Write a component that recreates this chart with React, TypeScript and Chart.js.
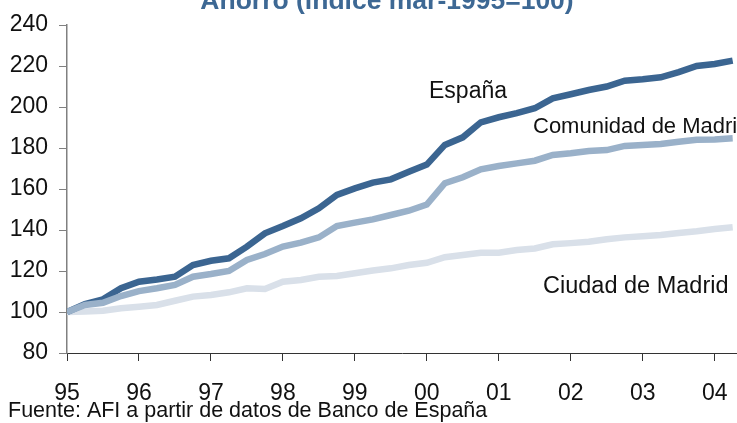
import React, { useEffect, useRef } from 'react';
import { Chart, registerables } from 'chart.js';

Chart.register(...registerables);

// ---- Data (quarterly, index mar-1995 = 100) ----
const firstYear = 1995;
const quarterStep = 0.25;
const yearLabels = ['95', '96', '97', '98', '99', '00', '01', '02', '03', '04'];
const yTicks = [80, 100, 120, 140, 160, 180, 200, 220, 240];

const espana = [
  100, 103.9, 106.2, 111.6, 114.8, 115.9, 117.2, 122.9, 125, 126.2,
  131.9, 138.4, 141.9, 145.7, 150.6, 157.1, 160.3, 163.1, 164.7, 168.4,
  171.9, 181.5, 185.2, 192.5, 195, 197, 199.4, 204.2, 206.2, 208.3,
  210, 212.8, 213.5, 214.5, 217, 220, 221, 222.6,
];
const comunidad = [
  100, 103.4, 104.5, 107.8, 110.2, 111.6, 113.2, 117.2, 118.5, 120,
  125.4, 128.3, 131.9, 133.8, 136.4, 141.9, 143.6, 145.2, 147.3, 149.4,
  152.4, 162.8, 165.7, 169.6, 171.2, 172.5, 173.8, 176.6, 177.4, 178.5,
  179, 181, 181.5, 182, 183, 184, 184.2, 184.7,
];
const ciudad = [
  100, 100.2, 100.6, 101.8, 102.6, 103.4, 105.5, 107.5, 108.3, 109.6,
  111.6, 111.2, 114.8, 115.6, 117.2, 117.6, 118.9, 120.2, 121.3, 122.9,
  124, 126.7, 127.8, 128.9, 128.9, 130.2, 131, 133, 133.6, 134.3,
  135.5, 136.4, 137, 137.6, 138.5, 139.4, 140.5, 141.3,
];

const seriesNames = ['España', 'Comunidad de Madrid', 'Ciudad de Madrid'];
const titleText = 'Ahorro (índice mar-1995=100)';
const sourceText = 'Fuente: AFI a partir de datos de Banco de España';

const COLORS = {
  espana: '#3b6591',
  comunidad: '#9ab1c9',
  ciudad: '#d9e0e9',
  title: '#3d6894',
  text: '#111111',
};

const FONT = '"Liberation Sans", Arial, Helvetica, sans-serif';

const toPoints = (arr: number[]) =>
  arr.map((v, i) => ({ x: firstYear + i * quarterStep, y: v }));

const textPlugin = {
  id: 'textPlugin',
  afterDraw(chart: any) {
    const ctx = chart.ctx as CanvasRenderingContext2D;
    ctx.save();
    ctx.textBaseline = 'alphabetic';
    // title (cropped at top in reference)
    ctx.fillStyle = COLORS.title;
    ctx.font = `bold 26.5px ${FONT}`;
    ctx.textAlign = 'center';
    ctx.fillText(titleText, 387, 9);
    // series labels
    ctx.fillStyle = COLORS.text;
    ctx.font = `23px ${FONT}`;
    ctx.textAlign = 'left';
    ctx.fillText(seriesNames[0], 429, 98);
    ctx.font = `22px ${FONT}`;
    ctx.fillText(seriesNames[1], 533, 133);
    ctx.font = `23.5px ${FONT}`;
    ctx.fillText(seriesNames[2], 543, 293);
    // source
    ctx.font = `21.5px ${FONT}`;
    ctx.fillText(sourceText, 8, 417);
    ctx.restore();
  },
};

export default function App() {
  const ref = useRef<HTMLCanvasElement | null>(null);

  useEffect(() => {
    if (!ref.current) return;
    const chart = new Chart(ref.current, {
      type: 'line',
      data: {
        datasets: [
          {
            label: seriesNames[0],
            data: toPoints(espana),
            borderColor: COLORS.espana,
            borderWidth: 6.5,
            pointRadius: 0,
            tension: 0,
            order: 1,
          },
          {
            label: seriesNames[1],
            data: toPoints(comunidad),
            borderColor: COLORS.comunidad,
            borderWidth: 6.5,
            pointRadius: 0,
            tension: 0,
            order: 0,
          },
          {
            label: seriesNames[2],
            data: toPoints(ciudad),
            borderColor: COLORS.ciudad,
            borderWidth: 6.5,
            pointRadius: 0,
            tension: 0,
            order: 2,
          },
        ],
      },
      options: {
        responsive: false,
        animation: false,
        devicePixelRatio: 1,
        layout: { padding: { top: 25, right: 0, left: 0, bottom: 0 } },
        plugins: {
          legend: { display: false },
          tooltip: { enabled: false },
          title: { display: false },
        },
        scales: {
          x: {
            type: 'linear',
            min: firstYear,
            max: 2004.31,
            afterFit: (scale: any) => {
              scale.height = 70;
              scale.paddingRight = 0;
              scale.paddingLeft = 0;
            },
            afterBuildTicks: (scale: any) => {
              scale.ticks = yearLabels.map((_, i) => ({ value: firstYear + i }));
            },
            border: { display: true, color: '#333333', width: 1 },
            grid: {
              display: true,
              drawOnChartArea: false,
              drawTicks: true,
              tickLength: 8,
              color: '#333333',
              lineWidth: 1,
            },
            ticks: {
              autoSkip: false,
              maxRotation: 0,
              padding: 19,
              color: COLORS.text,
              font: { family: FONT, size: 23 },
              callback: (v: any) => {
                const idx = Math.round(Number(v) - firstYear);
                return yearLabels[idx] ?? '';
              },
            },
          },
          y: {
            min: 80,
            max: 240,
            afterFit: (scale: any) => {
              scale.width = 67;
            },
            afterBuildTicks: (scale: any) => {
              scale.ticks = yTicks.map((v) => ({ value: v }));
            },
            border: { display: true, color: '#808080', width: 1.5 },
            grid: {
              display: true,
              drawOnChartArea: false,
              drawTicks: true,
              tickLength: 8,
              color: '#808080',
              lineWidth: 1,
            },
            ticks: {
              padding: 11,
              color: COLORS.text,
              font: { family: FONT, size: 23 },
            },
          },
        },
      },
      plugins: [textPlugin],
    } as any);
    return () => chart.destroy();
  }, []);

  return (
    <div style={{ position: 'absolute', left: 0, top: 0, width: 737, height: 423, background: '#ffffff' }}>
      <canvas ref={ref} width={737} height={423} style={{ display: 'block' }} />
    </div>
  );
}
